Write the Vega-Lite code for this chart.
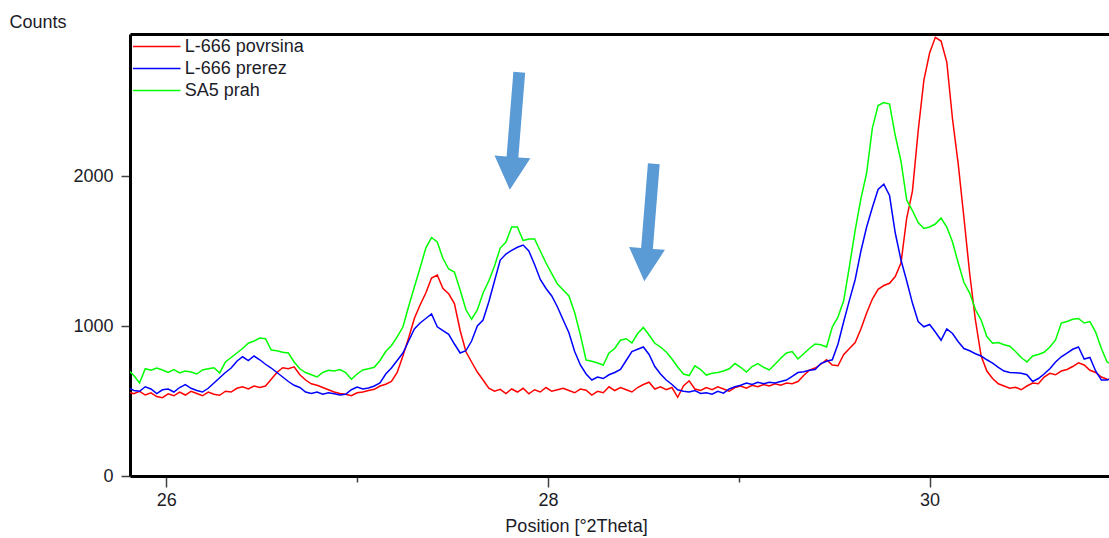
{
  "$schema": "https://vega.github.io/schema/vega-lite/v6.json",
  "width": 979,
  "height": 442,
  "autosize": "none",
  "padding": {"left": 130, "top": 34, "right": 0, "bottom": 62},
  "background": "white",
  "config": {
    "view": {"stroke": null},
    "font": "Liberation Sans",
    "axis": {"domainColor": "#000", "domainWidth": 3, "grid": false, "labelFont": "Liberation Sans", "titleFont": "Liberation Sans", "labelFontSize": 18, "titleFontSize": 18, "titleFontWeight": "normal", "labelColor": "#1c1c28", "titleColor": "#1c1c28", "tickColor": "#404040", "tickWidth": 1.5},
    "legend": {"labelFont": "Liberation Sans", "labelFontSize": 18, "labelColor": "#1c1c28"}
  },
  "datasets": {
    "xrd": [
      {"x":25.80,"L-666 povrsina":560,"L-666 prerez":590,"SA5 prah":707},
      {"x":25.83,"L-666 povrsina":548,"L-666 prerez":570,"SA5 prah":670},
      {"x":25.86,"L-666 povrsina":565,"L-666 prerez":565,"SA5 prah":620},
      {"x":25.89,"L-666 povrsina":540,"L-666 prerez":595,"SA5 prah":715},
      {"x":25.92,"L-666 povrsina":555,"L-666 prerez":580,"SA5 prah":705},
      {"x":25.95,"L-666 povrsina":530,"L-666 prerez":550,"SA5 prah":720},
      {"x":25.98,"L-666 povrsina":522,"L-666 prerez":575,"SA5 prah":707},
      {"x":26.01,"L-666 povrsina":548,"L-666 prerez":580,"SA5 prah":690},
      {"x":26.04,"L-666 povrsina":535,"L-666 prerez":560,"SA5 prah":710},
      {"x":26.07,"L-666 povrsina":560,"L-666 prerez":590,"SA5 prah":687},
      {"x":26.10,"L-666 povrsina":540,"L-666 prerez":610,"SA5 prah":700},
      {"x":26.13,"L-666 povrsina":565,"L-666 prerez":585,"SA5 prah":693},
      {"x":26.16,"L-666 povrsina":550,"L-666 prerez":570,"SA5 prah":680},
      {"x":26.19,"L-666 povrsina":535,"L-666 prerez":560,"SA5 prah":707},
      {"x":26.22,"L-666 povrsina":560,"L-666 prerez":585,"SA5 prah":715},
      {"x":26.25,"L-666 povrsina":545,"L-666 prerez":620,"SA5 prah":722},
      {"x":26.28,"L-666 povrsina":538,"L-666 prerez":655,"SA5 prah":687},
      {"x":26.31,"L-666 povrsina":565,"L-666 prerez":690,"SA5 prah":760},
      {"x":26.34,"L-666 povrsina":560,"L-666 prerez":720,"SA5 prah":790},
      {"x":26.37,"L-666 povrsina":585,"L-666 prerez":765,"SA5 prah":820},
      {"x":26.40,"L-666 povrsina":595,"L-666 prerez":795,"SA5 prah":850},
      {"x":26.43,"L-666 povrsina":580,"L-666 prerez":770,"SA5 prah":885},
      {"x":26.46,"L-666 povrsina":600,"L-666 prerez":800,"SA5 prah":900},
      {"x":26.49,"L-666 povrsina":590,"L-666 prerez":775,"SA5 prah":920},
      {"x":26.52,"L-666 povrsina":600,"L-666 prerez":745,"SA5 prah":915},
      {"x":26.55,"L-666 povrsina":645,"L-666 prerez":720,"SA5 prah":840},
      {"x":26.58,"L-666 povrsina":690,"L-666 prerez":690,"SA5 prah":835},
      {"x":26.61,"L-666 povrsina":722,"L-666 prerez":660,"SA5 prah":825},
      {"x":26.64,"L-666 povrsina":715,"L-666 prerez":630,"SA5 prah":820},
      {"x":26.67,"L-666 povrsina":728,"L-666 prerez":605,"SA5 prah":760},
      {"x":26.70,"L-666 povrsina":675,"L-666 prerez":590,"SA5 prah":715},
      {"x":26.73,"L-666 povrsina":640,"L-666 prerez":560,"SA5 prah":690},
      {"x":26.76,"L-666 povrsina":615,"L-666 prerez":550,"SA5 prah":675},
      {"x":26.79,"L-666 povrsina":605,"L-666 prerez":560,"SA5 prah":660},
      {"x":26.82,"L-666 povrsina":590,"L-666 prerez":545,"SA5 prah":690},
      {"x":26.85,"L-666 povrsina":575,"L-666 prerez":555,"SA5 prah":705},
      {"x":26.88,"L-666 povrsina":560,"L-666 prerez":548,"SA5 prah":700},
      {"x":26.91,"L-666 povrsina":550,"L-666 prerez":540,"SA5 prah":710},
      {"x":26.94,"L-666 povrsina":545,"L-666 prerez":545,"SA5 prah":690},
      {"x":26.97,"L-666 povrsina":535,"L-666 prerez":575,"SA5 prah":645},
      {"x":27.00,"L-666 povrsina":555,"L-666 prerez":593,"SA5 prah":680},
      {"x":27.03,"L-666 povrsina":560,"L-666 prerez":580,"SA5 prah":707},
      {"x":27.06,"L-666 povrsina":570,"L-666 prerez":587,"SA5 prah":715},
      {"x":27.09,"L-666 povrsina":578,"L-666 prerez":600,"SA5 prah":725},
      {"x":27.12,"L-666 povrsina":600,"L-666 prerez":620,"SA5 prah":770},
      {"x":27.15,"L-666 povrsina":612,"L-666 prerez":680,"SA5 prah":830},
      {"x":27.18,"L-666 povrsina":630,"L-666 prerez":720,"SA5 prah":870},
      {"x":27.21,"L-666 povrsina":690,"L-666 prerez":770,"SA5 prah":927},
      {"x":27.24,"L-666 povrsina":800,"L-666 prerez":820,"SA5 prah":993},
      {"x":27.27,"L-666 povrsina":920,"L-666 prerez":900,"SA5 prah":1130},
      {"x":27.30,"L-666 povrsina":1050,"L-666 prerez":980,"SA5 prah":1260},
      {"x":27.33,"L-666 povrsina":1140,"L-666 prerez":1020,"SA5 prah":1387},
      {"x":27.36,"L-666 povrsina":1220,"L-666 prerez":1050,"SA5 prah":1520},
      {"x":27.39,"L-666 povrsina":1320,"L-666 prerez":1080,"SA5 prah":1590},
      {"x":27.42,"L-666 povrsina":1340,"L-666 prerez":995,"SA5 prah":1560},
      {"x":27.45,"L-666 povrsina":1250,"L-666 prerez":970,"SA5 prah":1450},
      {"x":27.48,"L-666 povrsina":1215,"L-666 prerez":945,"SA5 prah":1380},
      {"x":27.51,"L-666 povrsina":1150,"L-666 prerez":880,"SA5 prah":1360},
      {"x":27.54,"L-666 povrsina":970,"L-666 prerez":820,"SA5 prah":1240},
      {"x":27.57,"L-666 povrsina":830,"L-666 prerez":835,"SA5 prah":1110},
      {"x":27.60,"L-666 povrsina":760,"L-666 prerez":900,"SA5 prah":1045},
      {"x":27.63,"L-666 povrsina":693,"L-666 prerez":1000,"SA5 prah":1107},
      {"x":27.66,"L-666 povrsina":640,"L-666 prerez":1040,"SA5 prah":1220},
      {"x":27.69,"L-666 povrsina":585,"L-666 prerez":1160,"SA5 prah":1300},
      {"x":27.72,"L-666 povrsina":565,"L-666 prerez":1300,"SA5 prah":1400},
      {"x":27.75,"L-666 povrsina":578,"L-666 prerez":1440,"SA5 prah":1520},
      {"x":27.78,"L-666 povrsina":550,"L-666 prerez":1480,"SA5 prah":1560},
      {"x":27.81,"L-666 povrsina":580,"L-666 prerez":1505,"SA5 prah":1660},
      {"x":27.84,"L-666 povrsina":560,"L-666 prerez":1525,"SA5 prah":1660},
      {"x":27.87,"L-666 povrsina":585,"L-666 prerez":1540,"SA5 prah":1570},
      {"x":27.90,"L-666 povrsina":548,"L-666 prerez":1500,"SA5 prah":1580},
      {"x":27.93,"L-666 povrsina":575,"L-666 prerez":1410,"SA5 prah":1580},
      {"x":27.96,"L-666 povrsina":560,"L-666 prerez":1310,"SA5 prah":1500},
      {"x":27.99,"L-666 povrsina":590,"L-666 prerez":1250,"SA5 prah":1420},
      {"x":28.02,"L-666 povrsina":565,"L-666 prerez":1200,"SA5 prah":1350},
      {"x":28.05,"L-666 povrsina":575,"L-666 prerez":1127,"SA5 prah":1280},
      {"x":28.08,"L-666 povrsina":585,"L-666 prerez":1040,"SA5 prah":1240},
      {"x":28.11,"L-666 povrsina":570,"L-666 prerez":955,"SA5 prah":1200},
      {"x":28.14,"L-666 povrsina":555,"L-666 prerez":830,"SA5 prah":1090},
      {"x":28.17,"L-666 povrsina":580,"L-666 prerez":740,"SA5 prah":940},
      {"x":28.20,"L-666 povrsina":572,"L-666 prerez":680,"SA5 prah":773},
      {"x":28.23,"L-666 povrsina":540,"L-666 prerez":640,"SA5 prah":765},
      {"x":28.26,"L-666 povrsina":565,"L-666 prerez":660,"SA5 prah":753},
      {"x":28.29,"L-666 povrsina":555,"L-666 prerez":650,"SA5 prah":740},
      {"x":28.32,"L-666 povrsina":595,"L-666 prerez":675,"SA5 prah":820},
      {"x":28.35,"L-666 povrsina":570,"L-666 prerez":690,"SA5 prah":850},
      {"x":28.38,"L-666 povrsina":590,"L-666 prerez":710,"SA5 prah":905},
      {"x":28.41,"L-666 povrsina":575,"L-666 prerez":770,"SA5 prah":915},
      {"x":28.44,"L-666 povrsina":560,"L-666 prerez":830,"SA5 prah":887},
      {"x":28.47,"L-666 povrsina":590,"L-666 prerez":845,"SA5 prah":950},
      {"x":28.50,"L-666 povrsina":610,"L-666 prerez":860,"SA5 prah":990},
      {"x":28.53,"L-666 povrsina":625,"L-666 prerez":810,"SA5 prah":940},
      {"x":28.56,"L-666 povrsina":580,"L-666 prerez":730,"SA5 prah":885},
      {"x":28.59,"L-666 povrsina":595,"L-666 prerez":680,"SA5 prah":860},
      {"x":28.62,"L-666 povrsina":575,"L-666 prerez":640,"SA5 prah":827},
      {"x":28.65,"L-666 povrsina":590,"L-666 prerez":610,"SA5 prah":780},
      {"x":28.68,"L-666 povrsina":525,"L-666 prerez":575,"SA5 prah":727},
      {"x":28.71,"L-666 povrsina":600,"L-666 prerez":565,"SA5 prah":680},
      {"x":28.74,"L-666 povrsina":635,"L-666 prerez":560,"SA5 prah":670},
      {"x":28.77,"L-666 povrsina":580,"L-666 prerez":570,"SA5 prah":735},
      {"x":28.80,"L-666 povrsina":570,"L-666 prerez":550,"SA5 prah":710},
      {"x":28.83,"L-666 povrsina":590,"L-666 prerez":555,"SA5 prah":673},
      {"x":28.86,"L-666 povrsina":575,"L-666 prerez":545,"SA5 prah":685},
      {"x":28.89,"L-666 povrsina":595,"L-666 prerez":565,"SA5 prah":690},
      {"x":28.92,"L-666 povrsina":580,"L-666 prerez":552,"SA5 prah":700},
      {"x":28.95,"L-666 povrsina":565,"L-666 prerez":580,"SA5 prah":715},
      {"x":28.98,"L-666 povrsina":590,"L-666 prerez":595,"SA5 prah":750},
      {"x":29.01,"L-666 povrsina":600,"L-666 prerez":605,"SA5 prah":725},
      {"x":29.04,"L-666 povrsina":585,"L-666 prerez":620,"SA5 prah":693},
      {"x":29.07,"L-666 povrsina":605,"L-666 prerez":610,"SA5 prah":730},
      {"x":29.10,"L-666 povrsina":595,"L-666 prerez":625,"SA5 prah":750},
      {"x":29.13,"L-666 povrsina":610,"L-666 prerez":615,"SA5 prah":725},
      {"x":29.16,"L-666 povrsina":600,"L-666 prerez":625,"SA5 prah":707},
      {"x":29.19,"L-666 povrsina":615,"L-666 prerez":620,"SA5 prah":745},
      {"x":29.22,"L-666 povrsina":605,"L-666 prerez":630,"SA5 prah":785},
      {"x":29.25,"L-666 povrsina":620,"L-666 prerez":640,"SA5 prah":820},
      {"x":29.28,"L-666 povrsina":615,"L-666 prerez":665,"SA5 prah":830},
      {"x":29.31,"L-666 povrsina":630,"L-666 prerez":690,"SA5 prah":780},
      {"x":29.34,"L-666 povrsina":670,"L-666 prerez":695,"SA5 prah":815},
      {"x":29.37,"L-666 povrsina":705,"L-666 prerez":705,"SA5 prah":850},
      {"x":29.40,"L-666 povrsina":720,"L-666 prerez":710,"SA5 prah":880},
      {"x":29.43,"L-666 povrsina":745,"L-666 prerez":750,"SA5 prah":875},
      {"x":29.46,"L-666 povrsina":775,"L-666 prerez":765,"SA5 prah":860},
      {"x":29.49,"L-666 povrsina":740,"L-666 prerez":775,"SA5 prah":993},
      {"x":29.52,"L-666 povrsina":735,"L-666 prerez":880,"SA5 prah":1060},
      {"x":29.55,"L-666 povrsina":810,"L-666 prerez":1030,"SA5 prah":1170},
      {"x":29.58,"L-666 povrsina":850,"L-666 prerez":1173,"SA5 prah":1400},
      {"x":29.61,"L-666 povrsina":890,"L-666 prerez":1310,"SA5 prah":1640},
      {"x":29.64,"L-666 povrsina":980,"L-666 prerez":1500,"SA5 prah":1850},
      {"x":29.67,"L-666 povrsina":1087,"L-666 prerez":1660,"SA5 prah":2020},
      {"x":29.70,"L-666 povrsina":1180,"L-666 prerez":1790,"SA5 prah":2320},
      {"x":29.73,"L-666 povrsina":1245,"L-666 prerez":1910,"SA5 prah":2470},
      {"x":29.76,"L-666 povrsina":1270,"L-666 prerez":1945,"SA5 prah":2490},
      {"x":29.79,"L-666 povrsina":1285,"L-666 prerez":1870,"SA5 prah":2480},
      {"x":29.82,"L-666 povrsina":1330,"L-666 prerez":1620,"SA5 prah":2270},
      {"x":29.85,"L-666 povrsina":1420,"L-666 prerez":1440,"SA5 prah":2100},
      {"x":29.88,"L-666 povrsina":1720,"L-666 prerez":1300,"SA5 prah":1840},
      {"x":29.91,"L-666 povrsina":1900,"L-666 prerez":1153,"SA5 prah":1770},
      {"x":29.94,"L-666 povrsina":2300,"L-666 prerez":1030,"SA5 prah":1690},
      {"x":29.97,"L-666 povrsina":2640,"L-666 prerez":995,"SA5 prah":1650},
      {"x":30.00,"L-666 povrsina":2820,"L-666 prerez":1010,"SA5 prah":1660},
      {"x":30.03,"L-666 povrsina":2925,"L-666 prerez":960,"SA5 prah":1680},
      {"x":30.06,"L-666 povrsina":2900,"L-666 prerez":905,"SA5 prah":1720},
      {"x":30.09,"L-666 povrsina":2760,"L-666 prerez":980,"SA5 prah":1660},
      {"x":30.12,"L-666 povrsina":2380,"L-666 prerez":950,"SA5 prah":1560},
      {"x":30.15,"L-666 povrsina":2080,"L-666 prerez":895,"SA5 prah":1420},
      {"x":30.18,"L-666 povrsina":1720,"L-666 prerez":850,"SA5 prah":1290},
      {"x":30.21,"L-666 povrsina":1350,"L-666 prerez":835,"SA5 prah":1220},
      {"x":30.24,"L-666 povrsina":1040,"L-666 prerez":815,"SA5 prah":1110},
      {"x":30.27,"L-666 povrsina":800,"L-666 prerez":800,"SA5 prah":1040},
      {"x":30.30,"L-666 povrsina":700,"L-666 prerez":775,"SA5 prah":930},
      {"x":30.33,"L-666 povrsina":650,"L-666 prerez":753,"SA5 prah":885},
      {"x":30.36,"L-666 povrsina":615,"L-666 prerez":725,"SA5 prah":890},
      {"x":30.39,"L-666 povrsina":600,"L-666 prerez":700,"SA5 prah":875},
      {"x":30.42,"L-666 povrsina":585,"L-666 prerez":690,"SA5 prah":865},
      {"x":30.45,"L-666 povrsina":592,"L-666 prerez":688,"SA5 prah":830},
      {"x":30.48,"L-666 povrsina":575,"L-666 prerez":685,"SA5 prah":790},
      {"x":30.51,"L-666 povrsina":600,"L-666 prerez":675,"SA5 prah":760},
      {"x":30.54,"L-666 povrsina":620,"L-666 prerez":630,"SA5 prah":800},
      {"x":30.57,"L-666 povrsina":615,"L-666 prerez":650,"SA5 prah":810},
      {"x":30.60,"L-666 povrsina":660,"L-666 prerez":680,"SA5 prah":825},
      {"x":30.63,"L-666 povrsina":685,"L-666 prerez":715,"SA5 prah":860},
      {"x":30.66,"L-666 povrsina":675,"L-666 prerez":760,"SA5 prah":907},
      {"x":30.69,"L-666 povrsina":700,"L-666 prerez":795,"SA5 prah":1020},
      {"x":30.72,"L-666 povrsina":710,"L-666 prerez":820,"SA5 prah":1030},
      {"x":30.75,"L-666 povrsina":730,"L-666 prerez":845,"SA5 prah":1045},
      {"x":30.78,"L-666 povrsina":755,"L-666 prerez":860,"SA5 prah":1050},
      {"x":30.81,"L-666 povrsina":740,"L-666 prerez":780,"SA5 prah":1020},
      {"x":30.84,"L-666 povrsina":705,"L-666 prerez":790,"SA5 prah":1030},
      {"x":30.87,"L-666 povrsina":690,"L-666 prerez":700,"SA5 prah":960},
      {"x":30.90,"L-666 povrsina":660,"L-666 prerez":640,"SA5 prah":850},
      {"x":30.93,"L-666 povrsina":645,"L-666 prerez":640,"SA5 prah":760},
      {"x":30.96,"L-666 povrsina":640,"L-666 prerez":655,"SA5 prah":740}
    ],
    "arrows": [
      {"x": 27.825, "counts": 2300},
      {"x": 28.530, "counts": 1690}
    ]
  },
  "layer": [
    {
      "data": {"name": "xrd"},
      "transform": [{"fold": ["L-666 povrsina", "L-666 prerez", "SA5 prah"], "as": ["sample", "counts"]}],
      "mark": {"type": "line", "strokeWidth": 1.5, "clip": true},
      "encoding": {
        "x": {
          "field": "x", "type": "quantitative",
          "scale": {"domain": [25.81, 30.94], "nice": false, "zero": false},
          "axis": {
            "orient": "bottom",
            "values": [26, 27, 28, 29, 30],
            "labelExpr": "datum.value % 2 == 0 ? datum.label : ''",
            "tickSize": 11,
            "tickDash": {"condition": {"test": "datum.value % 2 == 1", "value": [6, 30]}, "value": [1, 0]},
            "labelPadding": 4,
            "title": "Position [°2Theta]",
            "titleX": 446,
            "titleY": 55,
            "titleAlign": "center",
            "titleBaseline": "alphabetic"
          }
        },
        "y": {
          "field": "counts", "type": "quantitative",
          "scale": {"domain": [0, 2947], "nice": false},
          "axis": {
            "values": [0, 1000, 2000],
            "format": "d",
            "tickSize": 9,
            "labelPadding": 8,
            "title": "Counts",
            "titleAngle": 0,
            "titleAlign": "left",
            "titleBaseline": "alphabetic",
            "titleX": -121,
            "titleY": -7
          }
        },
        "color": {
          "field": "sample", "type": "nominal",
          "scale": {"domain": ["L-666 povrsina", "L-666 prerez", "SA5 prah"], "range": ["#ff0000", "#0000ff", "#00ff00"]},
          "legend": {
            "orient": "top-left",
            "offset": 1.5,
            "padding": 0,
            "title": null,
            "symbolType": "M -2.5 0 L 2.5 0",
            "symbolSize": 361,
            "symbolStrokeWidth": 1.5,
            "symbolFillColor": "transparent",
            "symbolOffset": 14.25,
            "labelOffset": 17.5,
            "rowPadding": 2
          }
        }
      }
    },
    {
      "data": {"name": "arrows"},
      "mark": {
        "type": "point",
        "shape": "M -0.1 -1 L 0.1 -1 L 0.1 0.44 L 0.305 0.44 L 0 1 L -0.305 0.44 L -0.1 0.44 Z",
        "size": 13924,
        "filled": true,
        "color": "#5b9bd5",
        "opacity": 1,
        "angle": 4.6,
        "strokeWidth": 0
      },
      "encoding": {
        "x": {
          "field": "x", "type": "quantitative",
          "scale": {"domain": [25.81, 30.94], "nice": false, "zero": false},
          "axis": {"orient": "top", "labels": false, "ticks": false, "title": null, "grid": false}
        },
        "y": {"field": "counts", "type": "quantitative"}
      }
    }
  ]
}
